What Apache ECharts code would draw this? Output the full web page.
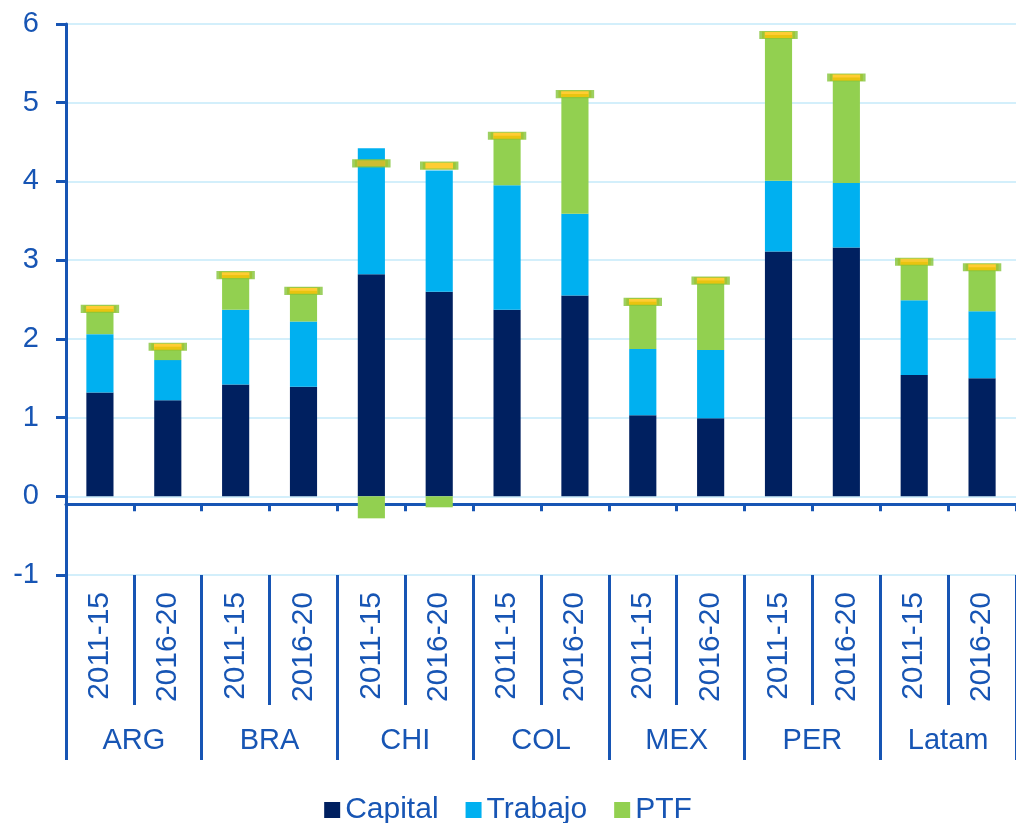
<!DOCTYPE html>
<html lang="es">
  <head>
    <meta charset="UTF-8" />
    <title>Capital, Trabajo, PTF</title>
    <script src="https://cdn.jsdelivr.net/npm/echarts@6.0.0/dist/echarts.min.js"></script>
    <style>
      html, body { margin: 0; padding: 0; background: #fff; }
    </style>
  </head>
  <body>
    <div id="main" style="width: 1016px; height: 823px"></div>
    <script type="text/javascript">
      // periods (inner axis) and countries (outer axis)
      const periods = [
        "2011-15", "2016-20", "2011-15", "2016-20", "2011-15", "2016-20", "2011-15",
        "2016-20", "2011-15", "2016-20", "2011-15", "2016-20", "2011-15", "2016-20",
      ];
      const countries = ["ARG", "BRA", "CHI", "COL", "MEX", "PER", "Latam"];

      // contributions (pp)
      const capital = [1.32, 1.22, 1.42, 1.39, 2.82, 2.6, 2.37, 2.55, 1.03, 0.99, 3.11, 3.16, 1.54, 1.5];
      const trabajo = [0.74, 0.51, 0.95, 0.83, 1.6, 1.54, 1.58, 1.04, 0.84, 0.87, 0.9, 0.82, 0.95, 0.85];
      const ptf = [0.32, 0.17, 0.44, 0.39, -0.28, -0.14, 0.63, 1.52, 0.6, 0.88, 1.85, 1.34, 0.49, 0.56];
      const total = [2.38, 1.9, 2.81, 2.61, 4.23, 4.2, 4.58, 5.11, 2.47, 2.74, 5.86, 5.32, 2.98, 2.91];

      const blue = "#1755b4";
      const font = "Liberation Sans, Arial, sans-serif";

      let options = {
        animation: false,
        textStyle: { fontFamily: font },
        grid: { left: 66, right: 0, top: 24, bottom: 248, outerBoundsMode: "none" },
        legend: {
          data: ["Capital", "Trabajo", "PTF"],
          top: 790,
          left: "center",
          icon: "rect",
          itemWidth: 16,
          itemHeight: 16,
          itemGap: 27,
          textStyle: { fontSize: 30, color: blue, fontFamily: font },
        },
        xAxis: [
          {
            // period labels under the -1 line
            type: "category",
            data: periods,
            position: "bottom",
            axisLine: { show: false, onZero: false },
            axisTick: { show: true, interval: 0, length: 130, lineStyle: { color: blue, width: 3 } },
            axisLabel: { interval: 0, rotate: 90, margin: 17, fontSize: 30, color: blue, fontFamily: font },
          },
          {
            // country groups
            type: "category",
            data: countries,
            position: "bottom",
            axisLine: { show: false, onZero: false },
            axisTick: { show: true, interval: 0, length: 185, lineStyle: { color: blue, width: 3 } },
            axisLabel: { interval: 0, margin: 151, fontSize: 29, color: blue, fontFamily: font },
          },
          {
            // horizontal axis line sitting a little below zero
            type: "category",
            data: periods,
            position: "bottom",
            axisLine: { show: true, onZero: true, onZeroAxisIndex: 1, lineStyle: { color: blue, width: 3 } },
            axisTick: { show: true, interval: 0, length: 7, lineStyle: { color: blue, width: 3 } },
            axisLabel: { show: false },
          },
        ],
        yAxis: [
          {
            type: "value",
            min: -1,
            max: 6,
            interval: 1,
            axisLine: { show: true, lineStyle: { color: blue, width: 3 } },
            axisTick: { show: true, length: 10, lineStyle: { color: blue, width: 3 } },
            axisLabel: { fontSize: 29, color: blue, margin: 27, fontFamily: font },
            splitLine: { lineStyle: { color: "#c4eafa", width: 1.5 } },
          },
          {
            // helper axis: its zero falls at -0.1 on the main axis
            type: "value",
            min: -0.9,
            max: 6.1,
            show: false,
          },
        ],
        series: [
          {
            name: "Capital",
            type: "bar",
            stack: "a",
            barWidth: "40%",
            data: capital,
            itemStyle: { color: "#002060" },
          },
          {
            name: "Trabajo",
            type: "bar",
            stack: "a",
            barWidth: "40%",
            data: trabajo,
            itemStyle: { color: "#00b0f0" },
          },
          {
            name: "PTF",
            type: "bar",
            stack: "a",
            barWidth: "40%",
            data: ptf,
            itemStyle: { color: "#92d050" },
          },
          {
            name: "Total",
            type: "scatter",
            data: total,
            symbol: "rect",
            symbolSize: [33, 7],
            z: 5,
            itemStyle: { color: "#ffc000", borderColor: "#84c43a", borderWidth: 2.5 },
          },
        ],
      };

      let myChart = echarts.init(document.getElementById("main"));
      myChart.setOption(options);
    </script>
  </body>
</html>
